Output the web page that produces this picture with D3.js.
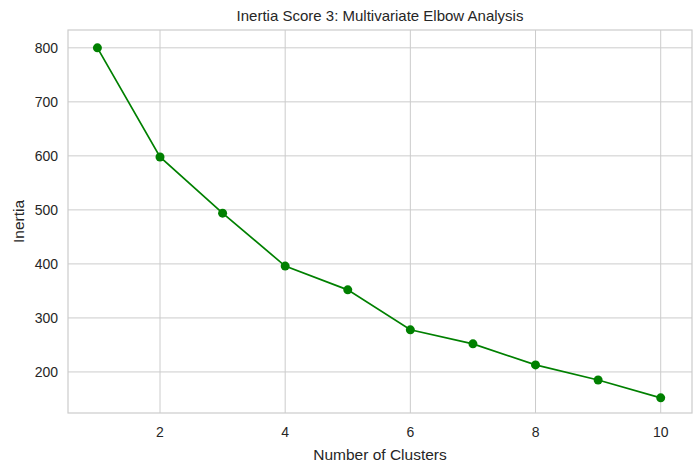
<!DOCTYPE html>
<html><head><meta charset="utf-8">
<script src="https://cdn.jsdelivr.net/npm/d3@7"></script>
<style>body{margin:0;background:#fff}text{font-family:"Liberation Sans",Arial,sans-serif;fill:#262626}</style>
</head><body>
<svg id="c" width="699" height="473"></svg>
<script>
const clusters=[1,2,3,4,5,6,7,8,9,10];
const inertia=[800,598,494,396,352,278,252,213,185,152];
const xTicks=[2,4,6,8,10];
const yTicks=[200,300,400,500,600,700,800];
const svg=d3.select("#c");
const L=68,R=692,T=30,B=413;
const x=d3.scaleLinear().domain([0.53,10.5]).range([L,R]);
const y=d3.scaleLinear().domain([124,833]).range([B,T]);
const g=svg.append("g");
g.selectAll(".gx").data(xTicks).join("line").attr("x1",d=>x(d)).attr("x2",d=>x(d)).attr("y1",T).attr("y2",B).attr("stroke","#cccccc");
g.selectAll(".gy").data(yTicks).join("line").attr("y1",d=>y(d)).attr("y2",d=>y(d)).attr("x1",L).attr("x2",R).attr("stroke","#cccccc");
svg.append("rect").attr("x",L).attr("y",T).attr("width",R-L).attr("height",B-T).attr("fill","none").attr("stroke","#cccccc").attr("stroke-width",1.2);
svg.selectAll(".xt").data(xTicks).join("text").attr("x",d=>x(d)).attr("y",B+24).attr("text-anchor","middle").attr("font-size",14).text(d=>d);
svg.selectAll(".yt").data(yTicks).join("text").attr("x",L-10).attr("y",d=>y(d)+5).attr("text-anchor","end").attr("font-size",14).text(d=>d);
svg.append("path").datum(clusters.map((c,i)=>[c,inertia[i]])).attr("fill","none").attr("stroke","green").attr("stroke-width",1.7)
 .attr("d",d3.line().x(d=>x(d[0])).y(d=>y(d[1])));
svg.selectAll(".pt").data(clusters).join("circle").attr("cx",d=>x(d)).attr("cy",(d,i)=>y(inertia[i])).attr("r",4.5).attr("fill","green");
svg.append("text").attr("x",(L+R)/2).attr("y",21).attr("text-anchor","middle").attr("font-size",15).text("Inertia Score 3: Multivariate Elbow Analysis");
svg.append("text").attr("x",(L+R)/2).attr("y",460).attr("text-anchor","middle").attr("font-size",15.5).text("Number of Clusters");
svg.append("text").attr("transform",`translate(24,${(T+B)/2}) rotate(-90)`).attr("text-anchor","middle").attr("font-size",15.5).text("Inertia");
</script></body></html>
